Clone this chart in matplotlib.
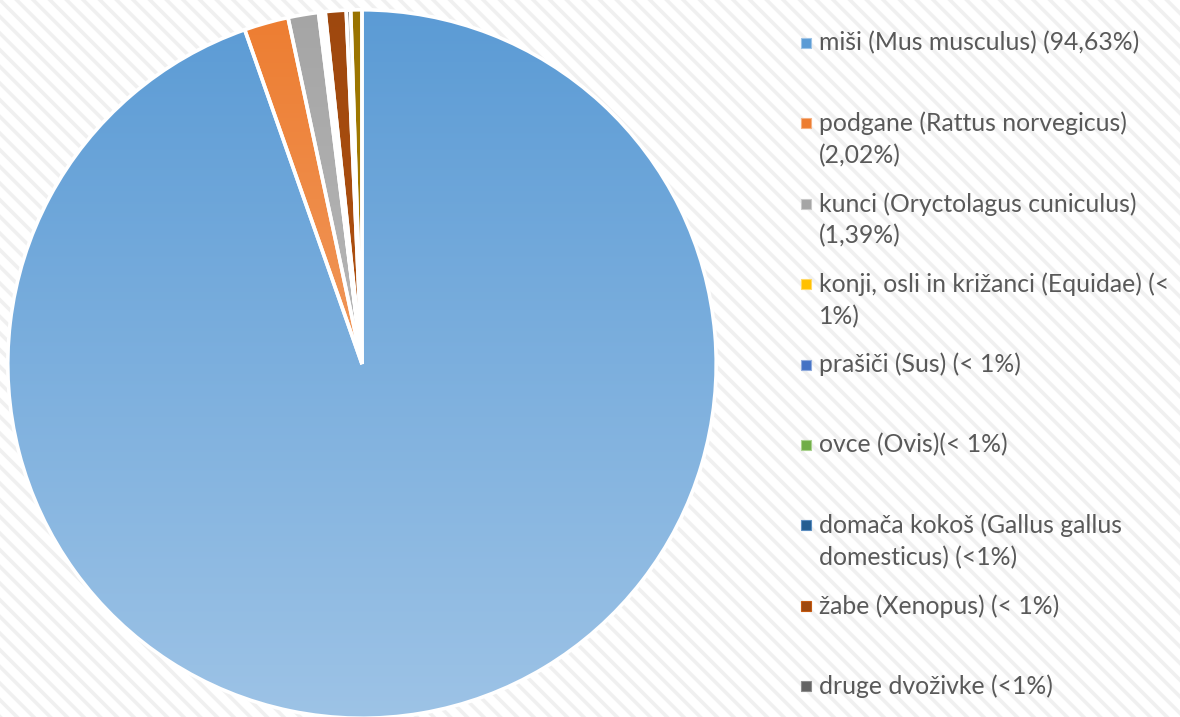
import matplotlib
matplotlib.use("Agg")
import matplotlib.pyplot as plt
import numpy as np
from matplotlib.patches import Rectangle
from matplotlib.colors import LinearSegmentedColormap

plt.rcParams['font.family'] = ['Lato', 'DejaVu Sans']
plt.rcParams['hatch.linewidth'] = 2.6

labels = [
    "miši (Mus musculus) (94,63%)",
    "podgane (Rattus norvegicus)\n(2,02%)",
    "kunci (Oryctolagus cuniculus)\n(1,39%)",
    "konji, osli in križanci (Equidae) (<\n1%)",
    "prašiči (Sus) (< 1%)",
    "ovce (Ovis)(< 1%)",
    "domača kokoš (Gallus gallus\ndomesticus) (<1%)",
    "žabe (Xenopus) (< 1%)",
    "druge dvoživke (<1%)",
    "",
]
values = [94.63, 2.02, 1.39, 0.05, 0.10, 0.05, 0.10, 0.95, 0.20, 0.51]
colors = ["#5B9BD5", "#ED7D31", "#A5A5A5", "#FFC000", "#4472C4",
          "#70AD47", "#255E91", "#9E480E", "#636363", "#997300"]
light_colors = ["#9DC3E6", "#F4B183", "#C9C9C9", "#FFD966", "#8FAADC",
                "#A9D18E", "#5B8DC0", "#C55A11", "#8C8C8C", "#BF9000"]

W, H = 1180, 717
fig = plt.figure(figsize=(W / 100, H / 100), dpi=100)
fig.patch.set_facecolor("white")
fig.patches.append(Rectangle((0, 0), 1, 1, transform=fig.transFigure,
                             facecolor="white", edgecolor="#f0f0f0",
                             hatch="\\\\", linewidth=0, zorder=-10))

cx, cy, r = 362, 717 - 364, 356
ax = fig.add_axes([(cx - r) / W, (cy - r) / H, 2 * r / W, 2 * r / H])
ax.axis("off")
ax.patch.set_alpha(0)

wedges, _ = ax.pie(values, colors=colors, startangle=90, counterclock=False,
                   radius=0.995, center=(0, 0),
                   wedgeprops=dict(edgecolor="white", linewidth=2.6))
ax.set_xlim(-1, 1)
ax.set_ylim(-1, 1)

# vertical gradient fills clipped to each wedge
for w, c0, c1 in zip(wedges, colors, light_colors):
    cmap = LinearSegmentedColormap.from_list("g", [c1, c0])
    grad = np.linspace(0, 1, 256).reshape(-1, 1)
    im = ax.imshow(grad, cmap=cmap, extent=(-1, 1, -1, 1), origin="lower",
                   aspect="auto", zorder=w.get_zorder() + 0.01)
    im.set_clip_path(w)
    w.set_facecolor("none")
    w.set_zorder(w.get_zorder() + 0.05)
ax.set_aspect("auto")

# legend
for i, (lab, c0, c1) in enumerate(zip(labels[:9], colors, light_colors)):
    ytop = 43 + 80.4 * i
    sq = 10
    fig.patches.append(Rectangle((801 / W, (H - ytop - sq / 2) / H), sq / W, sq / H,
                                 transform=fig.transFigure, facecolor=c0,
                                 edgecolor=c1, linewidth=0.8))
    for j, ln in enumerate(lab.split("\n")):
        fig.text(819 / W, (H - ytop - 32 * j) / H, ln, fontsize=17.8,
                 color="#595959", ha="left", va="center")

fig.savefig("out.png", dpi=100)
